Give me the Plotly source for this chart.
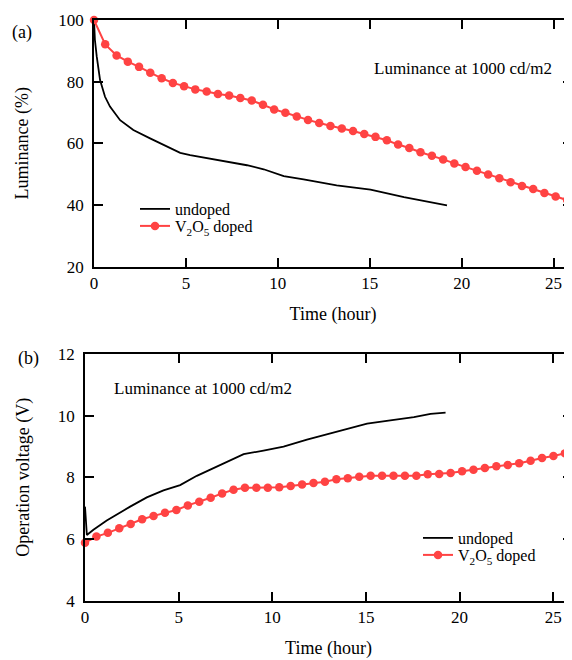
import plotly.graph_objects as go
from plotly.subplots import make_subplots

# ---- panel (a): luminance decay at 1000 cd/m2 ----
lum_undoped_t = [0, 0.05, 0.15, 0.33, 0.6, 0.87, 1.42, 2.14, 3.05, 3.96, 4.69, 5.23,
                 6.32, 7.41, 8.32, 9.23, 10.32, 11.4, 13.2, 15.04, 16.86, 19.2]
lum_undoped = [100, 93.5, 88.1, 80.5, 75.1, 71.9, 67.5, 64.3, 61.6, 59.1, 56.9, 56.2,
               55.1, 54.0, 52.9, 51.6, 49.4, 48.3, 46.4, 45.0, 42.6, 39.9]

lum_doped_t = [0, 0.61, 1.23, 1.84, 2.45, 3.06, 3.68, 4.29, 4.9, 5.51, 6.13, 6.74, 7.35,
               7.96, 8.58, 9.19, 9.8, 10.41, 11.03, 11.64, 12.25, 12.86, 13.48, 14.09,
               14.7, 15.31, 15.93, 16.54, 17.15, 17.76, 18.38, 18.99, 19.6, 20.21, 20.83,
               21.44, 22.05, 22.66, 23.28, 23.89, 24.5, 25.11, 25.73]
lum_doped = [100, 92.1, 88.5, 86.5, 84.8, 82.9, 81.1, 79.6, 78.5, 77.5, 76.8, 76.0, 75.5,
             74.7, 73.9, 72.5, 71.0, 69.9, 68.7, 67.6, 66.6, 65.6, 64.8, 64.0, 63.0,
             62.1, 61.0, 59.6, 58.5, 57.1, 56.0, 54.8, 53.5, 52.3, 51.1, 49.9, 48.7,
             47.4, 46.2, 45.2, 43.9, 42.8, 41.6]

# ---- panel (b): operation voltage ----
volt_undoped_t = [0, 0.1, 0.45, 1.16, 2.41, 3.3, 4.19, 5.08, 5.97, 6.86, 7.75, 8.47,
                  9.53, 10.6, 11.85, 13.0, 13.8, 15.06, 16.3, 17.56, 18.45, 19.25]
volt_undoped = [7.05, 6.13, 6.3, 6.6, 7.05, 7.35, 7.58, 7.75, 8.05, 8.3, 8.57, 8.75,
                8.87, 9.0, 9.22, 9.4, 9.54, 9.74, 9.85, 9.95, 10.06, 10.1]

volt_doped_t = [0, 0.61, 1.22, 1.83, 2.44, 3.05, 3.66, 4.27, 4.88, 5.49, 6.1, 6.71, 7.32,
                7.93, 8.54, 9.15, 9.76, 10.37, 10.98, 11.59, 12.2, 12.81, 13.42, 14.03,
                14.64, 15.25, 15.86, 16.47, 17.08, 17.69, 18.3, 18.91, 19.52, 20.13,
                20.74, 21.35, 21.96, 22.57, 23.18, 23.79, 24.4, 25.01, 25.62]
volt_doped = [5.88, 6.08, 6.20, 6.35, 6.49, 6.64, 6.75, 6.85, 6.94, 7.09, 7.21, 7.34,
              7.48, 7.60, 7.66, 7.66, 7.66, 7.68, 7.72, 7.77, 7.82, 7.86, 7.94, 7.97,
              8.02, 8.05, 8.05, 8.05, 8.05, 8.05, 8.10, 8.11, 8.14, 8.20, 8.25, 8.30,
              8.36, 8.40, 8.46, 8.54, 8.63, 8.69, 8.78]

FONT = "Liberation Serif"
RED = "#ff4343"
# the page body keeps its 8px margin, so the figure is 8px smaller than the window
OFF = 8
W, H = 572 - OFF, 660 - OFF


def fx(px):
    return (px - OFF) / W


def fy(px):
    return 1 - (px - OFF) / H


fig = make_subplots(rows=2, cols=1)

# one legend per entry so the rows can sit as tight as in the original
fig.add_trace(go.Scatter(x=lum_undoped_t, y=lum_undoped, mode="lines", name="undoped",
                         line=dict(color="black", width=1.8), legend="legend2",
                         showlegend=True), row=1, col=1)
fig.add_trace(go.Scatter(x=lum_doped_t, y=lum_doped, mode="lines+markers",
                         name="V<sub>2</sub>O<sub>5</sub> doped",
                         line=dict(color=RED, width=2), marker=dict(color=RED, size=8.5),
                         cliponaxis=False, legend="legend3", showlegend=True), row=1, col=1)
fig.add_trace(go.Scatter(x=volt_undoped_t, y=volt_undoped, mode="lines", name="undoped",
                         line=dict(color="black", width=1.8), legend="legend4",
                         showlegend=True), row=2, col=1)
fig.add_trace(go.Scatter(x=volt_doped_t, y=volt_doped, mode="lines+markers",
                         name="V<sub>2</sub>O<sub>5</sub> doped",
                         line=dict(color=RED, width=2), marker=dict(color=RED, size=8.5),
                         cliponaxis=False, legend="legend5", showlegend=True), row=2, col=1)

axis_style = dict(showline=True, linecolor="black", linewidth=1.5, mirror="ticks",
                  ticks="inside", ticklen=9, tickwidth=1.5, tickcolor="black",
                  showgrid=False, zeroline=False, automargin=False,
                  tickfont=dict(family=FONT, size=17, color="black"))

title_font = dict(family=FONT, size=18, color="black")

fig.update_xaxes(axis_style, range=[0, 26], tickvals=[0, 5, 10, 15, 20, 25],
                 title=dict(text="Time (hour)", font=title_font, standoff=16))
fig.update_xaxes(domain=[fx(94), 1.0], row=1, col=1)
fig.update_xaxes(domain=[fx(85), 1.0], row=2, col=1)

fig.update_yaxes(axis_style, ticklabelstandoff=5)
fig.update_yaxes(range=[20, 100], tickvals=[20, 40, 60, 80, 100],
                 domain=[fy(266.7), fy(20)],
                 title=dict(text="Luminance (%)", font=title_font, standoff=25),
                 row=1, col=1)
fig.update_yaxes(range=[4, 12], tickvals=[4, 6, 8, 10, 12],
                 domain=[fy(600.7), fy(354)],
                 title=dict(text="Operation voltage (V)", font=title_font, standoff=24),
                 row=2, col=1)

legend_style = dict(font=dict(family=FONT, size=16, color="black"),
                    bgcolor="rgba(0,0,0,0)", xanchor="left", yanchor="middle",
                    visible=True)

note = dict(xref="paper", yref="paper", showarrow=False, xanchor="left",
            font=dict(family=FONT, size=17, color="black"))
panel = dict(xref="paper", yref="paper", showarrow=False, xanchor="left",
             font=dict(family=FONT, size=18, color="black"))

fig.update_layout(
    width=W, height=H,
    margin=dict(l=0, r=0, t=0, b=0),
    paper_bgcolor="white", plot_bgcolor="white",
    showlegend=True,
    legend2=dict(legend_style, x=fx(135), y=fy(209)),
    legend3=dict(legend_style, x=fx(135), y=fy(226)),
    legend4=dict(legend_style, x=fx(418), y=fy(538)),
    legend5=dict(legend_style, x=fx(418), y=fy(555)),
    annotations=[
        dict(note, text="Luminance at 1000 cd/m2", x=fx(372), y=fy(57)),
        dict(note, text="Luminance at 1000 cd/m2", x=fx(112), y=fy(388)),
        dict(panel, text="(a)", x=fx(10), y=fy(20)),
        dict(panel, text="(b)", x=fx(16), y=fy(358)),
    ],
)

fig.write_html("out.html")
